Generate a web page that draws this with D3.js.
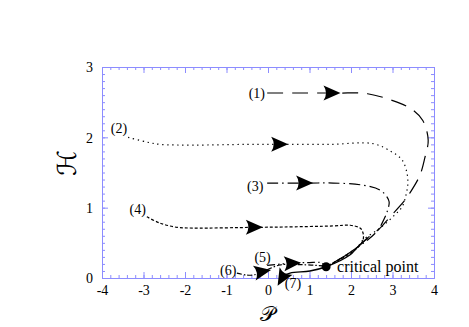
<!DOCTYPE html>
<html>
<head>
<meta charset="utf-8">
<script src="https://cdn.jsdelivr.net/npm/d3@7"></script>
<style>
body{margin:0;background:#fff;}
text{font-family:"Liberation Serif","Times New Roman",serif;}
</style>
</head>
<body>
<svg id="chart" width="469" height="327"></svg>
<script>
// tick values
var xMajor = [-4,-3,-2,-1,0,1,2,3,4];
var yMajor = [0,1,2,3];

// trajectories, [P, H]
var traj1 = [[-0.02,2.63],[0.8,2.63],[1.7,2.63],[2.4,2.62],[3.11,2.50],[3.49,2.39],[3.73,2.24],[3.86,1.96],[3.78,1.71],[3.66,1.46],[3.42,1.21],[3.25,1.07],[2.94,0.87],[2.70,0.71],[2.40,0.57],[2.14,0.43],[1.73,0.27],[1.40,0.16]];
var traj2 = [[-3.37,2.0],[-2.9,1.93],[-2.6,1.9],[-1.8,1.89],[-0.5,1.9],[0.4,1.9],[1.5,1.9],[2.53,1.91],[2.99,1.79],[3.23,1.68],[3.35,1.49],[3.37,1.35],[3.35,1.25],[3.23,1.01],[3.06,0.90],[2.70,0.71],[2.29,0.54],[2.14,0.43],[1.73,0.27],[1.40,0.16]];
var traj3 = [[-0.02,1.35],[1.0,1.35],[1.57,1.35],[2.29,1.32],[2.70,1.25],[2.87,1.15],[2.92,1.08],[2.87,0.94],[2.75,0.78],[2.65,0.68],[2.40,0.54],[2.14,0.43],[1.73,0.27],[1.40,0.16]];
var traj4 = [[-2.92,0.87],[-2.6,0.78],[-2.19,0.72],[-1.8,0.71],[-0.3,0.72],[0.36,0.725],[1.57,0.74],[1.98,0.75],[2.22,0.71],[2.29,0.64],[2.29,0.54],[2.17,0.44],[1.9,0.32],[1.40,0.16]];
var traj5 = [[-0.02,0.18],[0.58,0.21],[1.0,0.22],[1.25,0.22],[1.38,0.18]];
var traj6 = [[-0.75,0.07],[-0.5,0.04],[-0.3,0.05],[-0.14,0.085],[0.29,0.185],[0.8,0.19],[1.38,0.17]];
var traj7 = [[0.30,0.01],[0.53,0.07],[1.01,0.10],[1.40,0.16],[1.98,0.33],[2.14,0.43],[2.40,0.57]];

// arrow heads: position and heading (deg, screen)
var arrowPts = [[1.53,2.63,0],[0.27,1.90,0],[0.87,1.35,0],[-0.34,0.72,0],[0.58,0.21,-3],[-0.14,0.09,-10],[0.34,0.0,120]];

var critical = [1.40,0.16];

var labelNames = ["(1)","(2)","(3)","(4)","(5)","(6)","(7)"];
var labelPos = [[-0.27,2.63],[-3.59,2.13],[-0.31,1.31],[-3.14,0.98],[-0.13,0.30],[-0.96,0.11],[0.6,-0.07]];

var svg = d3.select("#chart");
var x = d3.scaleLinear().domain([-4,4]).range([102,434]);
var y = d3.scaleLinear().domain([0,3]).range([278,67]);
var frameCol = "#8c8cff";

var xMinor = d3.range(-4,4.01,0.2), yMinor = d3.range(0,3.001,0.1);

function axisStyle(g){
  g.selectAll("path.domain").attr("stroke",frameCol);
  g.selectAll(".tick line").attr("stroke",frameCol);
  g.selectAll(".tick text").attr("fill","#000").style("font-size","14px").style("font-family",'"Liberation Serif",serif');
}

// minor ticks all sides
svg.append("g").attr("transform","translate(0,278)").call(d3.axisBottom(x).tickValues(xMinor).tickSize(-3).tickFormat("").tickSizeOuter(0)).call(axisStyle);
svg.append("g").attr("transform","translate(0,67)").call(d3.axisTop(x).tickValues(xMinor).tickSize(-3).tickFormat("").tickSizeOuter(0)).call(axisStyle);
svg.append("g").attr("transform","translate(102,0)").call(d3.axisLeft(y).tickValues(yMinor).tickSize(-3).tickFormat("").tickSizeOuter(0)).call(axisStyle);
svg.append("g").attr("transform","translate(434,0)").call(d3.axisRight(y).tickValues(yMinor).tickSize(-3).tickFormat("").tickSizeOuter(0)).call(axisStyle);

// major ticks
var fmt = function(d){ return String(d); };  // plain hyphen minus like the original
var xb = svg.append("g").attr("transform","translate(0,278)").call(d3.axisBottom(x).tickValues(xMajor).tickSize(-6).tickSizeOuter(0).tickFormat(fmt)).call(axisStyle);
svg.append("g").attr("transform","translate(0,67)").call(d3.axisTop(x).tickValues(xMajor).tickSize(-6).tickFormat("").tickSizeOuter(0)).call(axisStyle);
var yl = svg.append("g").attr("transform","translate(102,0)").call(d3.axisLeft(y).tickValues(yMajor).tickSize(-6).tickSizeOuter(0).tickFormat(fmt)).call(axisStyle);
svg.append("g").attr("transform","translate(434,0)").call(d3.axisRight(y).tickValues(yMajor).tickSize(-6).tickFormat("").tickSizeOuter(0)).call(axisStyle);
xb.selectAll(".tick text").attr("dy","0.35em").attr("y",12);
yl.selectAll(".tick text").attr("x",-9).attr("dy","0.35em");

// axis titles
svg.append("text").attr("transform","translate(67,163) rotate(-90)").attr("text-anchor","middle").attr("dy","0.35em")
  .style("font-size","26px").style("font-family",'"DejaVu Sans",sans-serif').text("ℋ");
svg.append("text").attr("x",267).attr("y",314).attr("text-anchor","middle").attr("dy","0.35em")
  .style("font-size","21px").style("font-family",'"DejaVu Sans",sans-serif').text("𝒫");

var line = d3.line().x(function(d){return x(d[0]);}).y(function(d){return y(d[1]);}).curve(d3.curveCatmullRom.alpha(0.5));

var trajs = [traj1,traj2,traj3,traj4,traj5,traj6,traj7];
var dashes = ["16,9","1.3,3.7","11,4,1.5,4","3,2","8,3,1.5,3,1.5,3","5,2,1.5,2",null];
trajs.forEach(function(t,i){
  var p = svg.append("path").datum(t).attr("d",line).attr("fill","none")
    .attr("stroke","#000").attr("stroke-width",i==6?1.4:1.2);
  if(dashes[i]) p.attr("stroke-dasharray",dashes[i]);
});

// arrow heads
svg.selectAll("path.arr").data(arrowPts).enter().append("path").attr("class","arr")
  .attr("d","M9,0 L-8,-7.5 Q-3,0 -8,7.5 Z")
  .attr("transform",function(d){return "translate("+x(d[0])+","+y(d[1])+") rotate("+d[2]+")";})
  .attr("fill","#000");

svg.append("circle").attr("cx",x(critical[0])).attr("cy",y(critical[1])).attr("r",4.5).attr("fill","#000");
svg.append("text").attr("x",x(critical[0])+11).attr("y",y(critical[1])).attr("dy","0.3em").style("font-size","16px").text("critical point");

svg.selectAll("text.lab").data(labelNames).enter().append("text").attr("class","lab")
  .attr("x",function(d,i){return x(labelPos[i][0]);})
  .attr("y",function(d,i){return y(labelPos[i][1]);})
  .attr("text-anchor","middle").attr("dy","0.35em").style("font-size","14px")
  .text(function(d){return d;});
</script>
</body>
</html>
